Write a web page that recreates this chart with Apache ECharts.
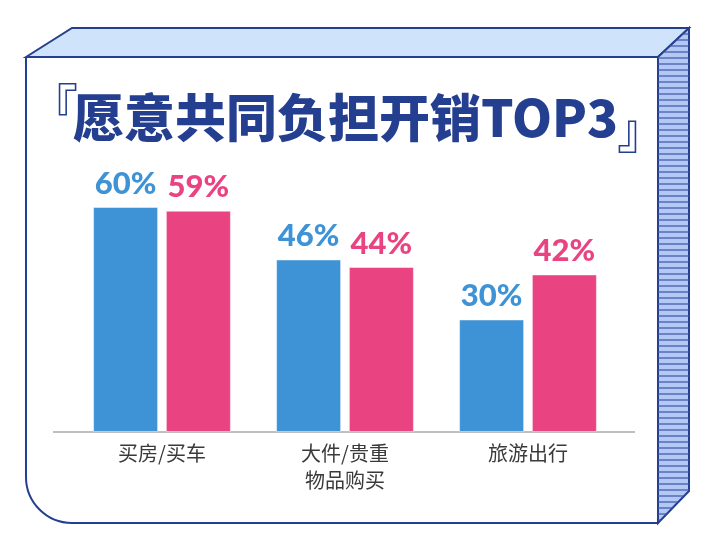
<!DOCTYPE html>
<html>
<head>
<meta charset="utf-8">
<script src="https://cdn.jsdelivr.net/npm/echarts@6/dist/echarts.min.js"></script>
<style>
  html, body { margin: 0; padding: 0; background: #fff; }
  #chart { width: 712px; height: 546px; }
</style>
</head>
<body>
<div id="chart"></div>
<script>
(function() {
  var categories = ['买房/买车', '大件/贵重\n物品购买', '旅游出行'];
  var seriesA = [60, 46, 30];
  var seriesB = [59, 44, 42];

  var navy = '#243f8f';
  var blue = '#3e93d6';
  var pink = '#e94481';

  // decorative box: front face, top face, striped right side
  var deco = [
    { type: 'polygon', z: 0, shape: { points: [[26, 57], [72, 28], [689, 28], [658, 57]] },
      style: { fill: '#cfe4fb', stroke: navy, lineWidth: 2 } },
    { type: 'polygon', z: 0, shape: { points: [[658, 57], [689, 28], [689, 491], [658, 523]] },
      style: { fill: '#b4c8f6', stroke: navy, lineWidth: 2 } },
    { type: 'rect', z: 0, shape: { x: 26, y: 57, width: 632, height: 466, r: [0, 0, 0, 46] },
      style: { fill: '#ffffff', stroke: navy, lineWidth: 2 } },
    { type: 'line', z: 1, shape: { x1: 53, y1: 432, x2: 635, y2: 432 },
      style: { stroke: '#aaaaaa', lineWidth: 1.5 } },
    // title brackets
    { type: 'text', z: 5, x: 30, y: 82,
      style: { text: '『', fill: navy, font: 'normal 48px "Noto Sans CJK SC"', verticalAlign: 'top' } },
    { type: 'text', z: 5, x: 617, y: 106,
      style: { text: '』', fill: navy, font: 'normal 48px "Noto Sans CJK SC"', verticalAlign: 'top' } }
  ];
  for (var y = 34; y < 522; y += 6) {
    var x1 = 658, x2 = 689;
    if (y < 57) x1 = 658 + (57 - y) * 31 / 29;
    if (y > 491) x2 = 658 + (523 - y) * 31 / 32;
    deco.push({ type: 'line', z: 1, shape: { x1: x1, y1: y, x2: x2, y2: y },
      style: { stroke: '#3b56a6', lineWidth: 1.2 } });
  }

  var chart = echarts.init(document.getElementById('chart'));
  chart.setOption({
    animation: false,
    graphic: deco,
    title: {
      left: 68,
      top: 87,
      text: '愿意共同负担开销TOP3',
      textStyle: { fontSize: 51, fontWeight: 900, color: navy, fontFamily: 'Noto Sans CJK SC' }
    },
    grid: { left: 70.5, right: 92.5, top: 57, bottom: 114 },
    xAxis: {
      type: 'category',
      data: categories,
      axisLine: { show: false },
      axisTick: { show: false },
      axisLabel: {
        margin: 8,
        color: '#3a3a3a',
        fontSize: 20,
        lineHeight: 27,
        fontFamily: 'Noto Sans CJK SC'
      }
    },
    yAxis: { type: 'value', min: 0, max: 100, show: false },
    series: [
      {
        type: 'bar',
        data: seriesA,
        barWidth: 65,
        barGap: '12%',
        itemStyle: { color: blue, borderColor: 'rgba(255,255,255,0.45)', borderWidth: 1 },
        label: { show: true, position: 'top', distance: 8, formatter: '{c}%', color: blue,
          fontSize: 31, fontWeight: 900, fontFamily: 'Lato' }
      },
      {
        type: 'bar',
        data: seriesB,
        barWidth: 65,
        itemStyle: { color: pink, borderColor: 'rgba(255,255,255,0.45)', borderWidth: 1 },
        label: { show: true, position: 'top', distance: 8, formatter: '{c}%', color: pink,
          fontSize: 31, fontWeight: 900, fontFamily: 'Lato' }
      }
    ]
  });
  window.addEventListener('resize', function() { chart.resize(); });
})();
</script>
</body>
</html>
